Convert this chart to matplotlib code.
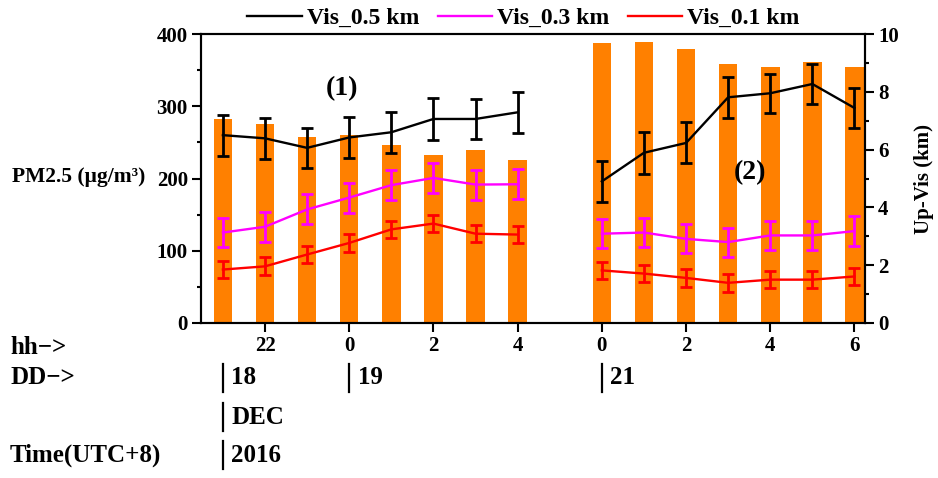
import numpy as np
import matplotlib
matplotlib.use('Agg')
import matplotlib.pyplot as plt
from matplotlib.transforms import blended_transform_factory
from matplotlib.ticker import MultipleLocator

plt.rcParams['font.family'] = ['Liberation Serif', 'DejaVu Serif']
plt.rcParams['font.weight'] = 'bold'

# hours of the two observation periods (18-19 Dec and 21 Dec 2016)
hours_a = [21, 22, 23, 0, 1, 2, 3, 4]
hours_b = [0, 1, 2, 3, 4, 5, 6]

pm25 = [282, 276, 257, 260, 246, 232, 240, 225,
        387, 389, 379, 358, 354, 361, 354]

vis05 = [6.50, 6.39, 6.06, 6.42, 6.60, 7.06, 7.06, 7.29,
         4.90, 5.89, 6.23, 7.81, 7.95, 8.27, 7.44]
vis05_err = [0.71, 0.71, 0.70, 0.71, 0.71, 0.72, 0.70, 0.72,
             0.70, 0.72, 0.71, 0.70, 0.68, 0.69, 0.69]
vis03 = [3.13, 3.33, 3.93, 4.34, 4.77, 5.02, 4.79, 4.80,
         3.09, 3.13, 2.91, 2.80, 3.03, 3.03, 3.18]
vis03_err = [0.51, 0.51, 0.52, 0.52, 0.53, 0.51, 0.52, 0.52,
             0.51, 0.50, 0.50, 0.50, 0.49, 0.50, 0.52]
vis01 = [1.85, 1.96, 2.37, 2.77, 3.24, 3.44, 3.09, 3.06,
         1.82, 1.71, 1.56, 1.39, 1.50, 1.50, 1.61]
vis01_err = [0.30, 0.31, 0.31, 0.30, 0.30, 0.28, 0.30, 0.30,
             0.29, 0.29, 0.30, 0.32, 0.30, 0.30, 0.30]

# x positions: a gap of one slot between the two periods
pos_a = np.arange(len(hours_a))
pos_b = np.arange(len(hours_b)) + len(hours_a) + 1
pos = np.concatenate([pos_a, pos_b])
hours = hours_a + hours_b

fig = plt.figure(figsize=(9.38, 4.78), dpi=100)
ax = fig.add_axes([201 / 938, 1 - 323 / 478, 664 / 938, 289 / 478])
ax2 = ax.twinx()

ax.bar(pos, pm25, width=0.44, color='#ff8000', zorder=1)

series = [(vis05, vis05_err, 'black', 'Vis_0.5 km'),
          (vis03, vis03_err, '#ff00ff', 'Vis_0.3 km'),
          (vis01, vis01_err, '#ff0000', 'Vis_0.1 km')]
n_a = len(hours_a)
for vals, err, col, lab in series:
    vals = np.array(vals)
    err = np.array(err)
    ax2.plot(pos[:n_a], vals[:n_a], color=col, lw=1.7, label=lab)
    ax2.plot(pos[n_a:], vals[n_a:], color=col, lw=1.7)
    ax2.errorbar(pos, vals, yerr=err, fmt='none', ecolor=col,
                 elinewidth=2, capsize=4.2, capthick=2)

ax.set_xlim(-0.52, 15.25)
ax.set_ylim(0, 400)
ax2.set_ylim(0, 10)

tick_pos = [p for p, h in zip(pos, hours) if h % 2 == 0]
tick_lab = [str(h) for h in hours if h % 2 == 0]
ax.set_xticks(tick_pos)
ax.set_xticklabels(tick_lab)

ax.yaxis.set_major_locator(MultipleLocator(100))
ax.yaxis.set_minor_locator(MultipleLocator(50))
ax2.yaxis.set_major_locator(MultipleLocator(2))
ax2.yaxis.set_minor_locator(MultipleLocator(1))

for a in (ax, ax2):
    for s in a.spines.values():
        s.set_linewidth(1.5)
    a.tick_params(which='major', direction='out', length=6.5, width=1.5,
                  labelsize=15, pad=3)
    a.tick_params(which='minor', direction='out', length=3, width=1.5)

fig.text(12 / 938, 1 - 177 / 478, 'PM2.5 (μg/m³)', fontsize=15.5,
         va='center', ha='left')
ax2.set_ylabel('Up-Vis (km)', fontsize=15, fontweight='bold', labelpad=11)

ax2.text(0.213, 0.81, '(1)', transform=ax.transAxes, fontsize=20,
         ha='center', va='center')
ax2.text(0.827, 0.52, '(2)', transform=ax.transAxes, fontsize=20,
         ha='center', va='center')

fig.legend(loc='center', bbox_to_anchor=(0.558, 0.962), ncol=3,
           frameon=False, fontsize=17, handlelength=2.3,
           handletextpad=0.2, columnspacing=0.8)

# date annotation rows under the axis
fig.text(10 / 938, 1 - 348 / 478, 'hh−>', fontsize=18, va='center')
fig.text(10 / 938, 1 - 378 / 478, 'DD−>', fontsize=18, va='center')
fig.text(10 / 938, 1 - 455 / 478, 'Time(UTC+8)', fontsize=18, va='center')

trans = blended_transform_factory(ax.transData, fig.transFigure)
marks = [(pos[0], 378, '18'), (pos[3], 378, '19'), (pos[n_a], 378, '21'),
         (pos[0], 417, 'DEC'), (pos[0], 455, '2016')]
for xp, yp, lab in marks:
    y0 = 1 - (yp + 14) / 478
    y1 = 1 - (yp - 14) / 478
    ax.plot([xp, xp], [y0, y1], color='black', lw=1.6, transform=trans,
            clip_on=False)
    ax.text(xp + 0.2, 1 - yp / 478, lab, fontsize=18, va='center',
            transform=trans)

fig.savefig('out.png', dpi=100)
